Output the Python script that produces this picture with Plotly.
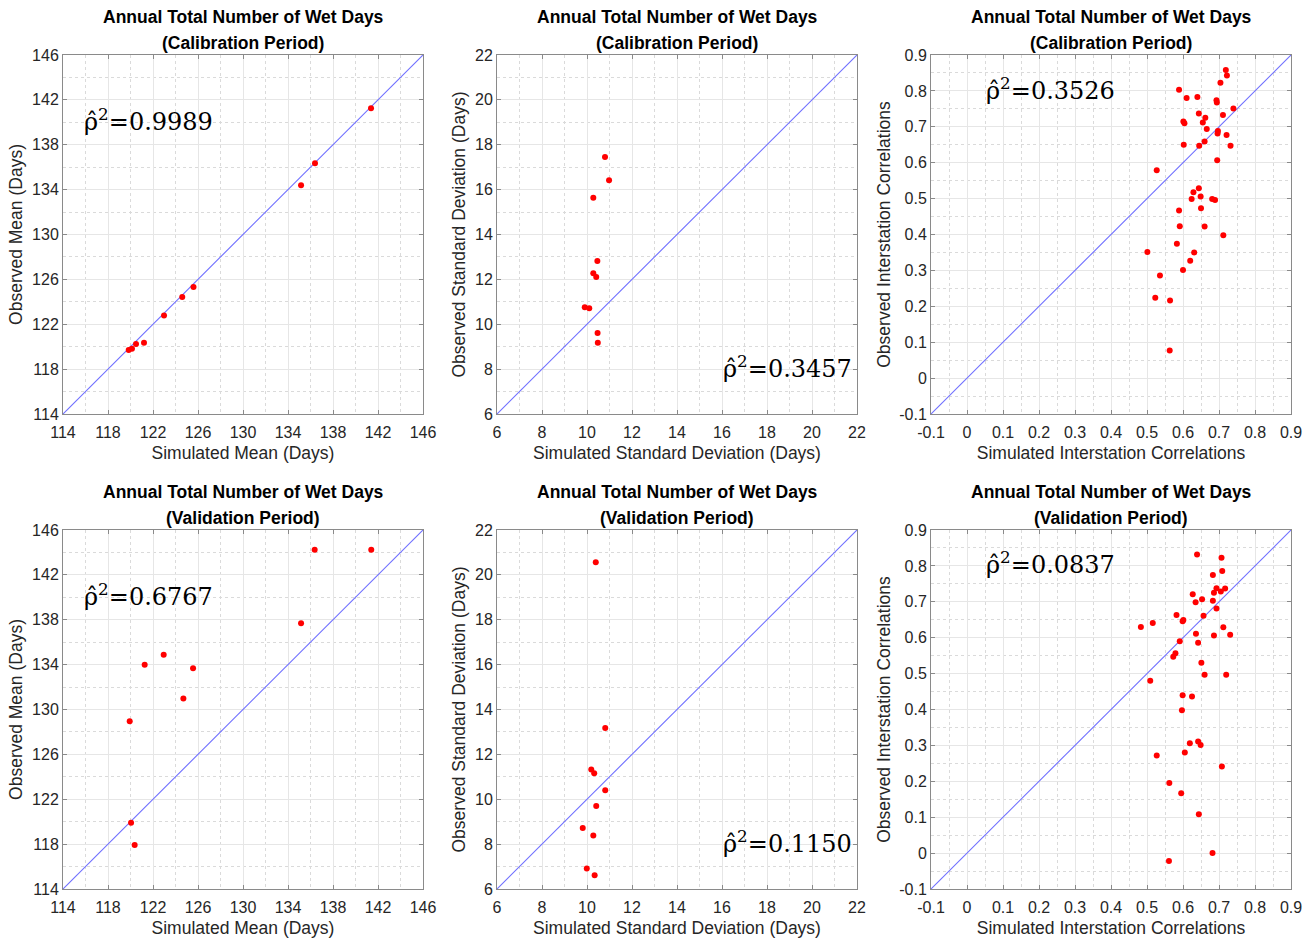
import plotly.graph_objects as go

# ---------------- data ----------------
# Mean number of wet days (10 stations)
cal_mean_sim = [141.38, 136.40, 135.16, 125.60, 124.60, 122.98, 121.20, 120.49, 120.13, 119.84]
cal_mean_obs = [141.25, 136.35, 134.38, 125.32, 124.43, 122.77, 120.36, 120.24, 119.82, 119.71]
val_mean_sim = [136.37, 141.40, 135.16, 122.95, 121.26, 125.56, 124.70, 119.93, 120.05, 120.37]
val_mean_obs = [144.25, 144.25, 137.68, 134.89, 134.00, 133.67, 130.97, 128.95, 119.91, 117.92]

# Standard deviation of wet days
cal_std_sim = [10.80, 10.98, 10.28, 10.46, 10.28, 10.41, 9.90, 10.10, 10.47, 10.48]
cal_std_obs = [17.45, 16.42, 15.64, 12.82, 12.27, 12.11, 10.76, 10.71, 9.61, 9.18]
val_std_sim = [10.39, 10.81, 10.19, 10.32, 10.81, 10.41, 9.81, 10.28, 9.99, 10.34]
val_std_obs = [20.56, 13.18, 11.33, 11.16, 10.40, 9.70, 8.72, 8.38, 6.91, 6.61]

# Interstation correlations (45 station pairs)
cal_cor_sim = [0.719, 0.722, 0.704, 0.589, 0.610, 0.640, 0.693, 0.694, 0.740, 0.644,
               0.711, 0.662, 0.601, 0.604, 0.655, 0.666, 0.697, 0.696, 0.721, 0.660,
               0.645, 0.602, 0.732, 0.695, 0.527, 0.644, 0.629, 0.624, 0.649, 0.681,
               0.689, 0.650, 0.589, 0.591, 0.660, 0.712, 0.583, 0.631, 0.501, 0.620,
               0.600, 0.536, 0.523, 0.564, 0.563]
cal_cor_obs = [0.858, 0.843, 0.823, 0.803, 0.780, 0.783, 0.774, 0.768, 0.751, 0.737,
               0.733, 0.725, 0.715, 0.710, 0.712, 0.694, 0.688, 0.681, 0.677, 0.659,
               0.647, 0.650, 0.647, 0.607, 0.579, 0.529, 0.518, 0.499, 0.506, 0.499,
               0.496, 0.473, 0.467, 0.423, 0.422, 0.398, 0.374, 0.350, 0.351, 0.327,
               0.301, 0.286, 0.224, 0.216, 0.077]
val_cor_sim = [0.639, 0.707, 0.709, 0.683, 0.693, 0.717, 0.686, 0.705, 0.627, 0.653,
               0.635, 0.683, 0.693, 0.582, 0.657, 0.601, 0.599, 0.516, 0.483, 0.712,
               0.636, 0.686, 0.731, 0.591, 0.642, 0.579, 0.573, 0.651, 0.660, 0.720,
               0.509, 0.599, 0.625, 0.597, 0.619, 0.642, 0.649, 0.605, 0.527, 0.708,
               0.562, 0.595, 0.644, 0.682, 0.561]
val_cor_obs = [0.832, 0.823, 0.786, 0.775, 0.738, 0.737, 0.725, 0.729, 0.721, 0.707,
               0.699, 0.703, 0.681, 0.663, 0.661, 0.649, 0.646, 0.641, 0.630, 0.629,
               0.611, 0.606, 0.608, 0.590, 0.586, 0.557, 0.547, 0.530, 0.497, 0.497,
               0.480, 0.440, 0.436, 0.398, 0.306, 0.311, 0.301, 0.280, 0.272, 0.241,
               0.195, 0.167, 0.108, 0.000, -0.022]

rho_labels = ["0.9989", "0.3457", "0.3526", "0.6767", "0.1150", "0.0837"]
period_labels = ["(Calibration Period)", "(Validation Period)"]
main_title = "Annual Total Number of Wet Days"

mean_ticks = [114, 118, 122, 126, 130, 134, 138, 142, 146]
std_ticks = [6, 8, 10, 12, 14, 16, 18, 20, 22]
cor_ticks = [-0.1, 0, 0.1, 0.2, 0.3, 0.4, 0.5, 0.6, 0.7, 0.8, 0.9]
cor_tick_text = ["-0.1", "0", "0.1", "0.2", "0.3", "0.4", "0.5", "0.6", "0.7", "0.8", "0.9"]

# ---------------- layout geometry ----------------
W, H = 1314, 942
col_px = [(63, 423), (497, 857), (931, 1291)]
row_px = [(55, 414), (530, 889)]

FONT = "Liberation Sans, Arial, Helvetica, sans-serif"
TXT = "#262626"
AX = "#8a8a8a"

panels = [
    # (row, col, sim, obs, range, ticks, ticktext, minor dtick, xtitle, ytitle, rho, rho position)
    (0, 0, cal_mean_sim, cal_mean_obs, (114, 146), mean_ticks, None, 2,
     "Simulated Mean (Days)", "Observed Mean (Days)", rho_labels[0], (115.7, 140.2)),
    (0, 1, cal_std_sim, cal_std_obs, (6, 22), std_ticks, None, 1,
     "Simulated Standard Deviation (Days)", "Observed Standard Deviation (Days)", rho_labels[1], (15.95, 8.1)),
    (0, 2, cal_cor_sim, cal_cor_obs, (-0.1, 0.9), cor_ticks, cor_tick_text, 0.05,
     "Simulated Interstation Correlations", "Observed Interstation Correlations", rho_labels[2], (0.048, 0.806)),
    (1, 0, val_mean_sim, val_mean_obs, (114, 146), mean_ticks, None, 2,
     "Simulated Mean (Days)", "Observed Mean (Days)", rho_labels[3], (115.7, 140.25)),
    (1, 1, val_std_sim, val_std_obs, (6, 22), std_ticks, None, 1,
     "Simulated Standard Deviation (Days)", "Observed Standard Deviation (Days)", rho_labels[4], (15.95, 8.1)),
    (1, 2, val_cor_sim, val_cor_obs, (-0.1, 0.9), cor_ticks, cor_tick_text, 0.05,
     "Simulated Interstation Correlations", "Observed Interstation Correlations", rho_labels[5], (0.048, 0.808)),
]

fig = go.Figure()
layout = dict(
    template="none",
    width=W, height=H,
    margin=dict(l=0, r=0, t=0, b=0, pad=0),
    paper_bgcolor="white", plot_bgcolor="white",
    showlegend=False,
    font=dict(family=FONT, color=TXT),
)
annotations = []

for i, (r, c, sim, obs, rng, ticks, ticktext, minor_dt, xt, yt, rho, rpos) in enumerate(panels):
    k = i + 1
    xa = "x" if k == 1 else f"x{k}"
    ya = "y" if k == 1 else f"y{k}"
    xkey = "xaxis" if k == 1 else f"xaxis{k}"
    ykey = "yaxis" if k == 1 else f"yaxis{k}"
    x0, x1 = col_px[c]
    y0, y1 = row_px[r]

    common = dict(
        range=list(rng), tickmode="array", tickvals=ticks,
        ticks="inside", ticklen=4, tickcolor=AX, tickwidth=1,
        showline=True, linecolor=AX, linewidth=1, mirror="ticks",
        showgrid=True, gridcolor="#e6e6e6", gridwidth=1,
        zeroline=False, automargin=False,
        tickfont=dict(family=FONT, size=16, color=TXT),
        minor=dict(dtick=minor_dt, showgrid=True, gridcolor="#dadada",
                   griddash="dot", gridwidth=1, ticks=""),
    )
    if ticktext is not None:
        common["ticktext"] = ticktext

    layout[xkey] = dict(
        common, domain=[x0 / W, x1 / W], anchor=ya, ticklabelstandoff=4,
        title=dict(text=xt, font=dict(family=FONT, size=17.5, color=TXT), standoff=6),
    )
    layout[ykey] = dict(
        common, domain=[1 - y1 / H, 1 - y0 / H], anchor=xa,
        title=dict(text=yt, font=dict(family=FONT, size=17.5, color=TXT), standoff=4),
    )

    # 1:1 reference line across the axis range
    fig.add_trace(go.Scatter(
        x=list(rng), y=list(rng), mode="lines",
        line=dict(color="#7070ff", width=1.1),
        xaxis=xa, yaxis=ya, hoverinfo="skip",
    ))
    fig.add_trace(go.Scatter(
        x=sim, y=obs, mode="markers",
        marker=dict(color="#ff0000", size=6, line=dict(width=0)),
        xaxis=xa, yaxis=ya,
    ))

    # coefficient of determination label
    annotations.append(dict(
        x=rpos[0], y=rpos[1], xref=xa, yref=ya,
        xanchor="left", yanchor="middle", showarrow=False,
        text="ρ̂<sup>2</sup>=" + rho,
        font=dict(family="DejaVu Serif, Liberation Serif, serif", size=24, color="#000000"),
    ))

    # two-line panel title
    cx = (x0 + x1) / 2 / W
    annotations.append(dict(
        x=cx, y=1 - (y0 - 38) / H, xref="paper", yref="paper",
        xanchor="center", yanchor="middle", showarrow=False,
        text=f"<b>{main_title}</b>",
        font=dict(family=FONT, size=17.5, color="#000000"),
    ))
    annotations.append(dict(
        x=cx, y=1 - (y0 - 12) / H, xref="paper", yref="paper",
        xanchor="center", yanchor="middle", showarrow=False,
        text=f"<b>{period_labels[r]}</b>",
        font=dict(family=FONT, size=17.5, color="#000000"),
    ))

layout["annotations"] = annotations
fig.update_layout(**layout)
fig.write_html("out.html")
